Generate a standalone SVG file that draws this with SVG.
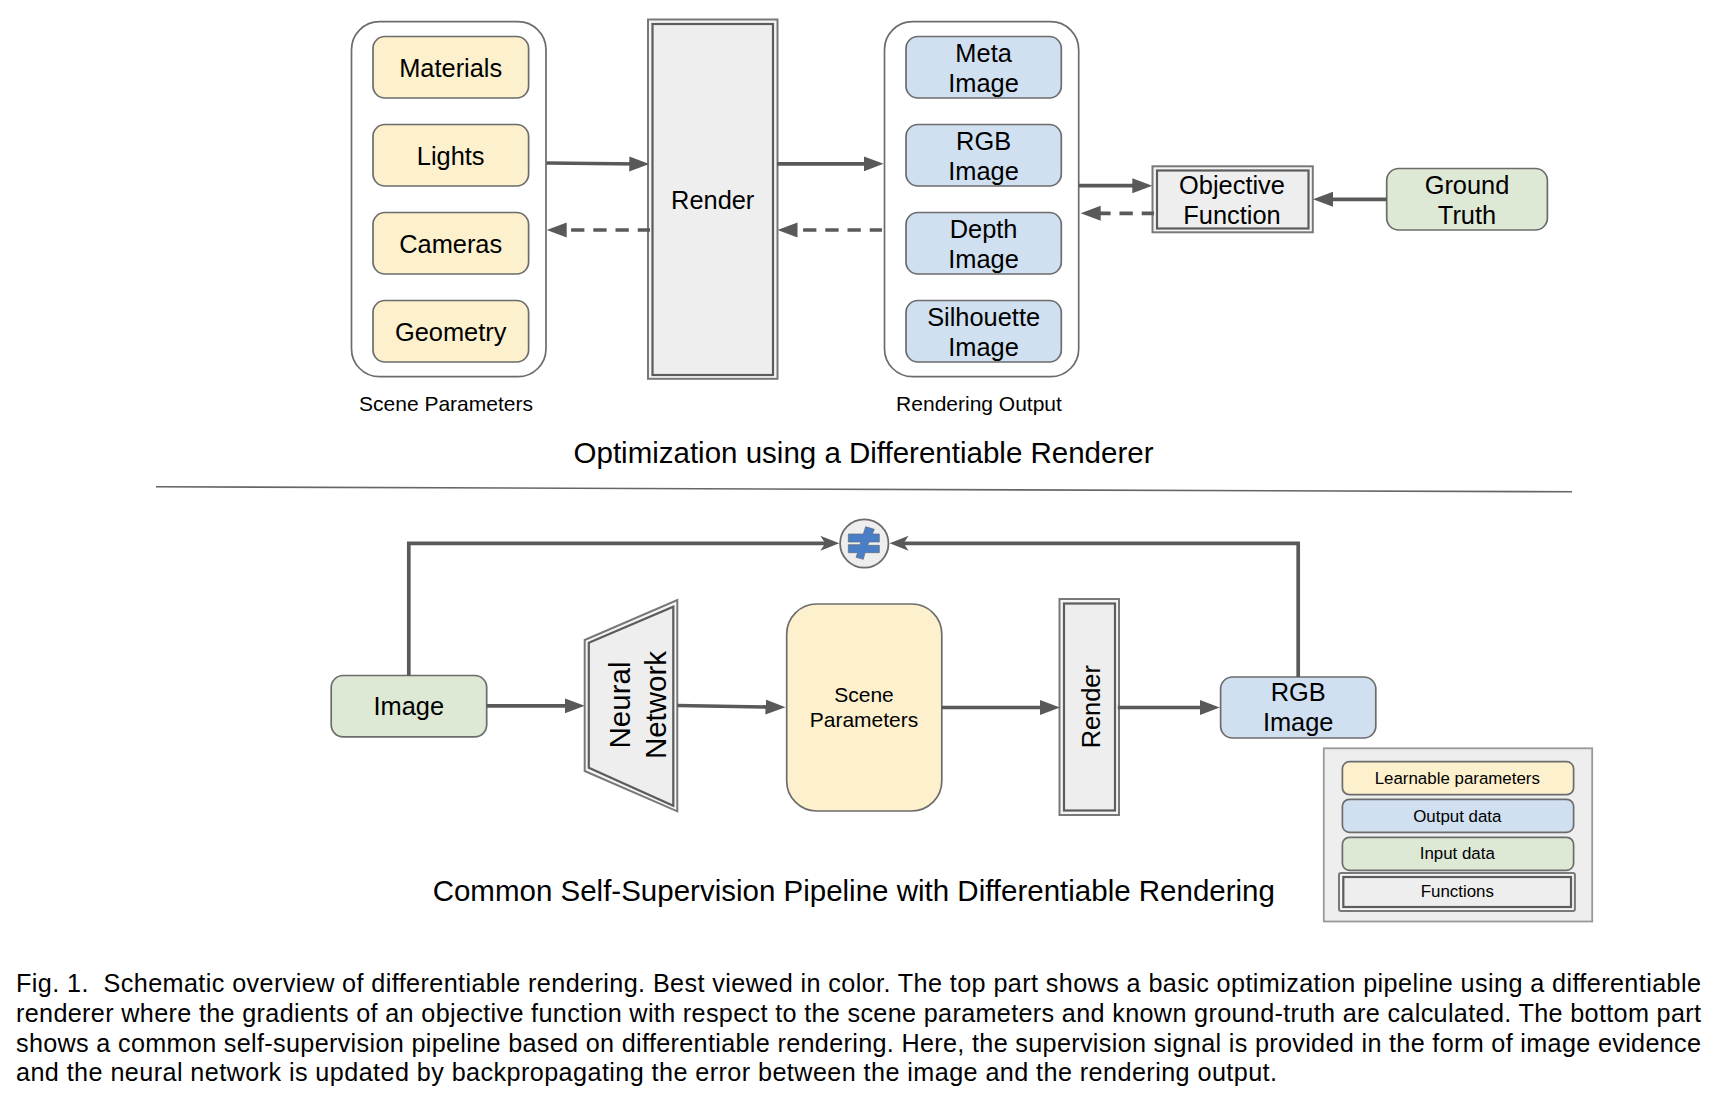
<svg xmlns="http://www.w3.org/2000/svg" width="1724" height="1100" viewBox="0 0 1724 1100">
<style>
text{font-family:"Liberation Sans",Arial,sans-serif;fill:#000;text-anchor:middle}
.f25{font-size:25.4px}.f21{font-size:21px}.f28{font-size:29.5px}.f31{font-size:29.5px}.f17{font-size:16.9px}
.cap{font-size:25.2px;text-anchor:start;white-space:pre}
.box{stroke:#6c6c6c;stroke-width:1.7}
.y{fill:#fcf0cd}.b{fill:#d0e0f0}.g{fill:#dde8d5}
.group{fill:#fff;stroke:#6c6c6c;stroke-width:1.7}
.dbl-o{fill:#f5f5f5;stroke:#787878;stroke-width:2}
.dbl-i{fill:#eee;stroke:#5c5c5c;stroke-width:2.2}
.conn{fill:none;stroke:#595959;stroke-width:3.7}
.dash{stroke-dasharray:13.3 8.9;stroke-dashoffset:1}
.a{marker-end:url(#arrow)}
.s{marker-end:url(#stealth)}
</style>
<defs>
<marker id="arrow" markerUnits="userSpaceOnUse" markerWidth="21" markerHeight="16" refX="10" refY="7.75" orient="auto"><path d="M0,0.25 L20,7.75 L0,15.25 Z" fill="#595959"/></marker>
<marker id="stealth" markerUnits="userSpaceOnUse" markerWidth="20" markerHeight="16" refX="6" refY="7.75" orient="auto"><path d="M0,0.25 L19,7.75 L0,15.25 L5,7.75 Z" fill="#595959"/></marker>
</defs>

<g id="scene-parameters-group"><rect class="group" x="351.5" y="21.7" width="194.5" height="355" rx="28"/><text class="f21" x="446" y="411">Scene Parameters</text></g>
<g id="materials"><rect class="box y" x="373" y="36.5" width="155.6" height="61.5" rx="12"/><text class="f25" x="450.7" y="77">Materials</text></g>
<g id="lights"><rect class="box y" x="373" y="124.5" width="155.6" height="61.5" rx="12"/><text class="f25" x="450.7" y="165">Lights</text></g>
<g id="cameras"><rect class="box y" x="373" y="212.5" width="155.6" height="61.5" rx="12"/><text class="f25" x="450.7" y="253">Cameras</text></g>
<g id="geometry"><rect class="box y" x="373" y="300.5" width="155.6" height="61.5" rx="12"/><text class="f25" x="450.7" y="341">Geometry</text></g>

<g id="render-top"><rect class="dbl-o" x="648" y="19.5" width="129.5" height="359.3"/><rect class="dbl-i" x="652.5" y="24" width="120.5" height="351"/><text class="f25" x="712.7" y="209">Render</text></g>

<g id="rendering-output-group"><rect class="group" x="884.5" y="21.7" width="194.2" height="355" rx="28"/><text class="f21" x="979" y="411">Rendering Output</text></g>
<g id="meta-image"><rect class="box b" x="906" y="36.5" width="155.3" height="61.5" rx="12"/><text class="f25" x="983.6" y="62">Meta</text><text class="f25" x="983.6" y="92">Image</text></g>
<g id="rgb-image-top"><rect class="box b" x="906" y="124.5" width="155.3" height="61.5" rx="12"/><text class="f25" x="983.6" y="150">RGB</text><text class="f25" x="983.6" y="180">Image</text></g>
<g id="depth-image"><rect class="box b" x="906" y="212.5" width="155.3" height="61.5" rx="12"/><text class="f25" x="983.6" y="238">Depth</text><text class="f25" x="983.6" y="268">Image</text></g>
<g id="silhouette-image"><rect class="box b" x="906" y="300.5" width="155.3" height="61.5" rx="12"/><text class="f25" x="983.6" y="326">Silhouette</text><text class="f25" x="983.6" y="356">Image</text></g>

<g id="objective-function"><rect class="dbl-o" x="1152.5" y="166.3" width="160.3" height="66"/><rect class="dbl-i" x="1157" y="170.5" width="151.5" height="58"/><text class="f25" x="1232" y="194">Objective</text><text class="f25" x="1232" y="224">Function</text></g>
<g id="ground-truth"><rect class="box g" x="1386.7" y="168.5" width="160.7" height="61.5" rx="12"/><text class="f25" x="1467" y="194">Ground</text><text class="f25" x="1467" y="224">Truth</text></g>

<g id="title-top"><text class="f31" x="863.5" y="462.5">Optimization using a Differentiable Renderer</text></g>
<g id="separator"><line x1="156" y1="486.8" x2="1572" y2="491.8" stroke="#666" stroke-width="1.6"/></g>

<g id="image-input"><rect class="box g" x="331.2" y="675.5" width="155.5" height="61.3" rx="12"/><text class="f25" x="408.8" y="715">Image</text></g>
<g id="neural-network"><path class="dbl-o" d="M584.7,640 L677.3,600 L677.3,811.3 L584.7,771 Z"/><path class="dbl-i" d="M588.8,642.7 L673.3,606.7 L673.3,805.7 L588.8,767.7 Z"/><text class="f28" transform="translate(630.4,705) rotate(-90)">Neural</text><text class="f28" transform="translate(665.9,705) rotate(-90)">Network</text></g>
<g id="scene-parameters"><rect class="box y" x="786.7" y="604" width="155.1" height="207" rx="30"/><text class="f21" x="864" y="702">Scene</text><text class="f21" x="864" y="727.3">Parameters</text></g>
<g id="render-bottom"><rect class="dbl-o" x="1059.5" y="599" width="59.5" height="216"/><rect class="dbl-i" x="1064" y="603.5" width="51" height="207"/><text class="f25" transform="translate(1099.6,706.7) rotate(-90)">Render</text></g>
<g id="rgb-image-bottom"><rect class="box b" x="1220.6" y="677" width="155.2" height="61" rx="12"/><text class="f25" x="1298.2" y="701">RGB</text><text class="f25" x="1298.2" y="731">Image</text></g>

<g id="compare-icon"><circle cx="864.3" cy="543.5" r="24.2" fill="#eee" stroke="#6c6c6c" stroke-width="1.8"/><path transform="translate(820,510) scale(0.3333)" d="M137,50 L163,58 L157,72 L178,72 L178,96 L147,96 L143,106 L178,106 L178,128 L135,128 L130,148 L108,142 L113,128 L85,128 L85,104 L120,104 L123,96 L85,96 L85,72 L130,72 Z" fill="#4a7fc8" stroke="#5c6670" stroke-width="2"/></g>

<g id="title-bottom"><text class="f31" x="853.8" y="900.5">Common Self-Supervision Pipeline with Differentiable Rendering</text></g>

<g id="legend"><rect x="1323.8" y="748.3" width="268.4" height="173.2" fill="#eee" stroke="#999" stroke-width="1.8"/>
<rect class="box y" x="1342.4" y="761.7" width="231.2" height="33" rx="7"/><text class="f17" x="1457.3" y="784.2">Learnable parameters</text>
<rect class="box b" x="1342.4" y="799.3" width="231.2" height="33" rx="7"/><text class="f17" x="1457.3" y="822">Output data</text>
<rect class="box g" x="1342.4" y="837.3" width="231.2" height="33" rx="7"/><text class="f17" x="1457.3" y="859.3">Input data</text>
<rect class="dbl-o" x="1339" y="873" width="235.9" height="38" rx="2"/><rect class="dbl-i" x="1343.3" y="877" width="227.7" height="30"/><text class="f17" x="1457.3" y="897.2">Functions</text></g>

<g id="connectors">
<line class="conn a" x1="546.4" y1="163" x2="639.3" y2="164"/>
<line class="conn dash a" x1="650" y1="230" x2="556.7" y2="230"/>
<line class="conn a" x1="777" y1="163.8" x2="873.6" y2="163.8"/>
<line class="conn dash a" x1="882" y1="230" x2="787.5" y2="230"/>
<line class="conn a" x1="1078.7" y1="185.7" x2="1142.3" y2="185.7"/>
<line class="conn dash a" x1="1154" y1="213.3" x2="1090.7" y2="213.3"/>
<line class="conn a" x1="1386.7" y1="199.3" x2="1323" y2="199.3"/>
<path class="conn s" d="M408.8,675.5 V543.3 H826.3"/>
<path class="conn s" d="M1298.2,677 V543.3 H902.6"/>
<line class="conn a" x1="486.7" y1="705.8" x2="574.7" y2="705.8"/>
<line class="conn a" x1="677.3" y1="705.5" x2="775.5" y2="707.2"/>
<line class="conn a" x1="941.8" y1="707.5" x2="1050" y2="707.5"/>
<line class="conn a" x1="1117.8" y1="707.5" x2="1209.7" y2="707.5"/>
</g>

<g id="caption">
<text class="cap" x="16" y="992" xml:space="preserve" textLength="1685">Fig. 1.  Schematic overview of differentiable rendering. Best viewed in color. The top part shows a basic optimization pipeline using a differentiable</text>
<text class="cap" x="16" y="1022" textLength="1685">renderer where the gradients of an objective function with respect to the scene parameters and known ground-truth are calculated. The bottom part</text>
<text class="cap" x="16" y="1051.5" textLength="1685">shows a common self-supervision pipeline based on differentiable rendering. Here, the supervision signal is provided in the form of image evidence</text>
<text class="cap" x="16" y="1081" textLength="1261">and the neural network is updated by backpropagating the error between the image and the rendering output.</text>
</g>
</svg>
